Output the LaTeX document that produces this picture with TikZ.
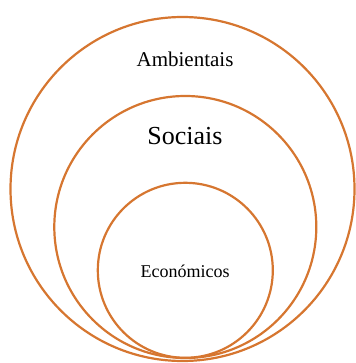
\documentclass[tikz,border=0pt]{standalone}
\usepackage{fontspec}
\setmainfont{Liberation Serif}
\definecolor{ringc}{RGB}{214,118,48}
\begin{document}
\begin{tikzpicture}[x=1pt,y=1pt,
  ring/.style={draw=ringc,line width=2.2pt,circle,inner sep=0pt}]
\useasboundingbox (0,0) rectangle (355,-363);
\node[ring,minimum size=344pt] (outer) at (182.5,-189) {};
\node[ring,minimum size=262pt] (middle) at (185.3,-227) {};
\node[ring,minimum size=175pt] (inner) at (185.3,-270.3) {};
\node[anchor=base,font=\fontsize{21}{24}\selectfont] (amb) at (185,-67) {Ambientais};
\node[anchor=base,font=\fontsize{26}{30}\selectfont] (soc) at (185,-145) {Sociais};
\node[anchor=base,font=\fontsize{18}{21}\selectfont] (eco) at (185,-277) {Económicos};
\end{tikzpicture}
\end{document}
